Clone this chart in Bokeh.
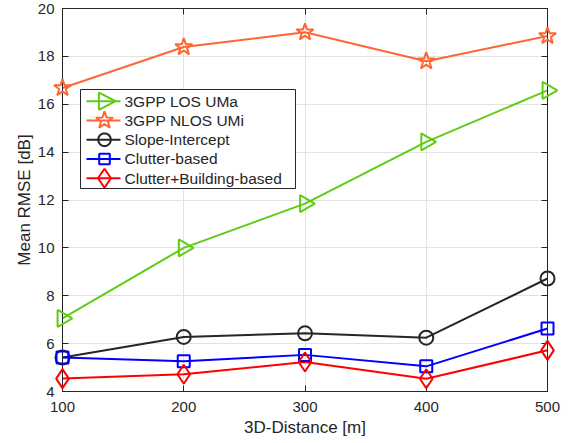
import math
from bokeh.plotting import figure
from bokeh.models import (Range1d, LinearAxis, FixedTicker, BoxAnnotation,
                          PolyAnnotation, Label)
from bokeh.embed import file_html
from bokeh.resources import INLINE

distance = [100, 200, 300, 400, 500]
los_uma = [7.05, 10.0, 11.85, 14.43, 16.58]
nlos_umi = [16.68, 18.39, 19.01, 17.8, 18.85]
slope_intercept = [5.42, 6.28, 6.43, 6.25, 8.72]
clutter_based = [5.42, 5.26, 5.53, 5.05, 6.63]
clutter_building = [4.54, 4.72, 5.23, 4.53, 5.72]

series_names = ["3GPP LOS UMa", "3GPP NLOS UMi", "Slope-Intercept",
                "Clutter-based", "Clutter+Building-based"]

x_ticks = [100, 200, 300, 400, 500]
y_ticks = [4, 6, 8, 10, 12, 14, 16, 18, 20]

FONT = "Liberation Sans"
AX = "#262626"
GREEN = "#5fcc14"
ORANGE = "#ff6633"
BLACK = "#262626"
BLUE = "#0000ff"
RED = "#ff0000"

# layout (canvas pixels)
W, H = 574, 443
FL, FR, FT, FB = 62, 547, 8, 391

p = figure(width=W, height=H, output_backend="svg", toolbar_location=None,
           x_range=Range1d(100, 500), y_range=Range1d(4, 20),
           frame_width=FR - FL, frame_height=FB - FT,
           min_border_left=FL, min_border_right=W - FR,
           min_border_top=FT, min_border_bottom=H - FB)

p.outline_line_color = AX
p.outline_line_width = 1
p.xgrid.grid_line_color = "#e2e2e2"
p.ygrid.grid_line_color = "#e2e2e2"
p.xaxis.ticker = FixedTicker(ticks=x_ticks)
p.yaxis.ticker = FixedTicker(ticks=y_ticks)
p.xgrid.ticker = FixedTicker(ticks=x_ticks)
p.ygrid.ticker = FixedTicker(ticks=y_ticks)

for ax in p.xaxis + p.yaxis:
    ax.major_tick_in = 6
    ax.major_tick_out = 0
    ax.minor_tick_in = 0
    ax.minor_tick_out = 0
    ax.axis_line_color = AX
    ax.major_tick_line_color = AX
    ax.major_label_text_font = FONT
    ax.major_label_text_font_size = "15px"
    ax.major_label_text_color = AX
    ax.axis_label_text_font = FONT
    ax.axis_label_text_font_size = "17px"
    ax.axis_label_text_font_style = "normal"
    ax.axis_label_text_color = AX

p.xaxis.axis_label = "3D-Distance [m]"
p.yaxis.axis_label = "Mean RMSE [dB]"
p.xaxis.major_label_standoff = 10
p.xaxis.axis_label_standoff = 3
p.yaxis.major_label_standoff = 8
p.yaxis.axis_label_standoff = 1

top = LinearAxis(ticker=FixedTicker(ticks=x_ticks), major_label_text_font_size="0px",
                 major_tick_in=6, major_tick_out=0, minor_tick_in=0, minor_tick_out=0,
                 axis_line_color=AX, major_tick_line_color=AX, major_label_standoff=0)
right = LinearAxis(ticker=FixedTicker(ticks=y_ticks), major_label_text_font_size="0px",
                   major_tick_in=6, major_tick_out=0, minor_tick_in=0, minor_tick_out=0,
                   axis_line_color=AX, major_tick_line_color=AX, major_label_standoff=0)
p.add_layout(top, "above")
p.add_layout(right, "right")

# data series (markers on overlay level so they are not clipped at the frame edge)
p.line(distance, los_uma, line_color=GREEN, line_width=2)
p.scatter(distance, los_uma, marker="triangle", size=17, angle=-math.pi / 2,
          fill_color=None, line_color=GREEN, line_width=2, level="overlay")

p.line(distance, nlos_umi, line_color=ORANGE, line_width=2)
p.scatter(distance, nlos_umi, marker="star", size=18,
          fill_color=None, line_color=ORANGE, line_width=2, level="overlay")

p.line(distance, slope_intercept, line_color=BLACK, line_width=2)
p.scatter(distance, slope_intercept, marker="circle", size=14,
          fill_color=None, line_color=BLACK, line_width=2, level="overlay")

p.line(distance, clutter_based, line_color=BLUE, line_width=2)
p.scatter(distance, clutter_based, marker="square", size=12,
          fill_color=None, line_color=BLUE, line_width=2, level="overlay")

p.line(distance, clutter_building, line_color=RED, line_width=2)
p.scatter(distance, clutter_building, marker="diamond", size=19,
          fill_color=None, line_color=RED, line_width=2, level="overlay")

# ---- legend drawn with screen-unit annotations ----
def sx(X):
    return X - FL

def sy(Y):
    return FB - Y

LEG = dict(x0=80, x1=295, y0=89, y1=188)
box = BoxAnnotation(left=sx(LEG["x0"]), right=sx(LEG["x1"]),
                    top=sy(LEG["y0"]), bottom=sy(LEG["y1"]),
                    left_units="screen", right_units="screen",
                    top_units="screen", bottom_units="screen",
                    fill_color="white", fill_alpha=1,
                    line_color=AX, line_alpha=1, line_width=1)
p.add_layout(box)

row_y0, row_dy = 100.7, 19.25
line_x0, line_x1, mark_x, text_x = 86, 120, 104, 124


def shape(kind, cx, cy):
    # returns canvas-pixel vertices of a legend marker outline
    if kind == "triangle":
        pts = [(-5.6, -8.6), (11.0, 0.0), (-5.6, 8.6)]
    elif kind == "star":
        pts = []
        for k in range(10):
            r = 9.0 if k % 2 == 0 else 3.6
            a = -math.pi / 2 + k * math.pi / 5
            pts.append((r * math.cos(a), r * math.sin(a)))
    elif kind == "circle":
        pts = [(6.3 * math.cos(2 * math.pi * k / 40), 6.3 * math.sin(2 * math.pi * k / 40))
               for k in range(40)]
    elif kind == "square":
        pts = [(-5.3, -5.3), (5.3, -5.3), (5.3, 5.3), (-5.3, 5.3)]
    else:  # diamond
        pts = [(0, -9.5), (6.5, 0), (0, 9.5), (-6.5, 0)]
    return [sx(cx + dx) for dx, _ in pts], [sy(cy + dy) for _, dy in pts]


legend_specs = list(zip(series_names, [GREEN, ORANGE, BLACK, BLUE, RED],
                        ["triangle", "star", "circle", "square", "diamond"]))
for i, (name, color, kind) in enumerate(legend_specs):
    cy = row_y0 + i * row_dy
    p.add_layout(PolyAnnotation(xs=[sx(line_x0), sx(line_x1)], ys=[sy(cy), sy(cy)],
                                xs_units="screen", ys_units="screen",
                                line_color=color, line_width=2, line_alpha=1,
                                fill_alpha=0))
    xs, ys = shape(kind, mark_x, cy)
    p.add_layout(PolyAnnotation(xs=xs, ys=ys, xs_units="screen", ys_units="screen",
                                line_color=color, line_width=2, line_alpha=1,
                                fill_alpha=0))
    p.add_layout(Label(x=sx(text_x), y=sy(cy), x_units="screen", y_units="screen",
                       text=name, text_baseline="middle", text_align="left",
                       text_font=FONT, text_font_size="15.5px", text_color=AX))

open("out.html", "w").write(file_html(p, INLINE))
